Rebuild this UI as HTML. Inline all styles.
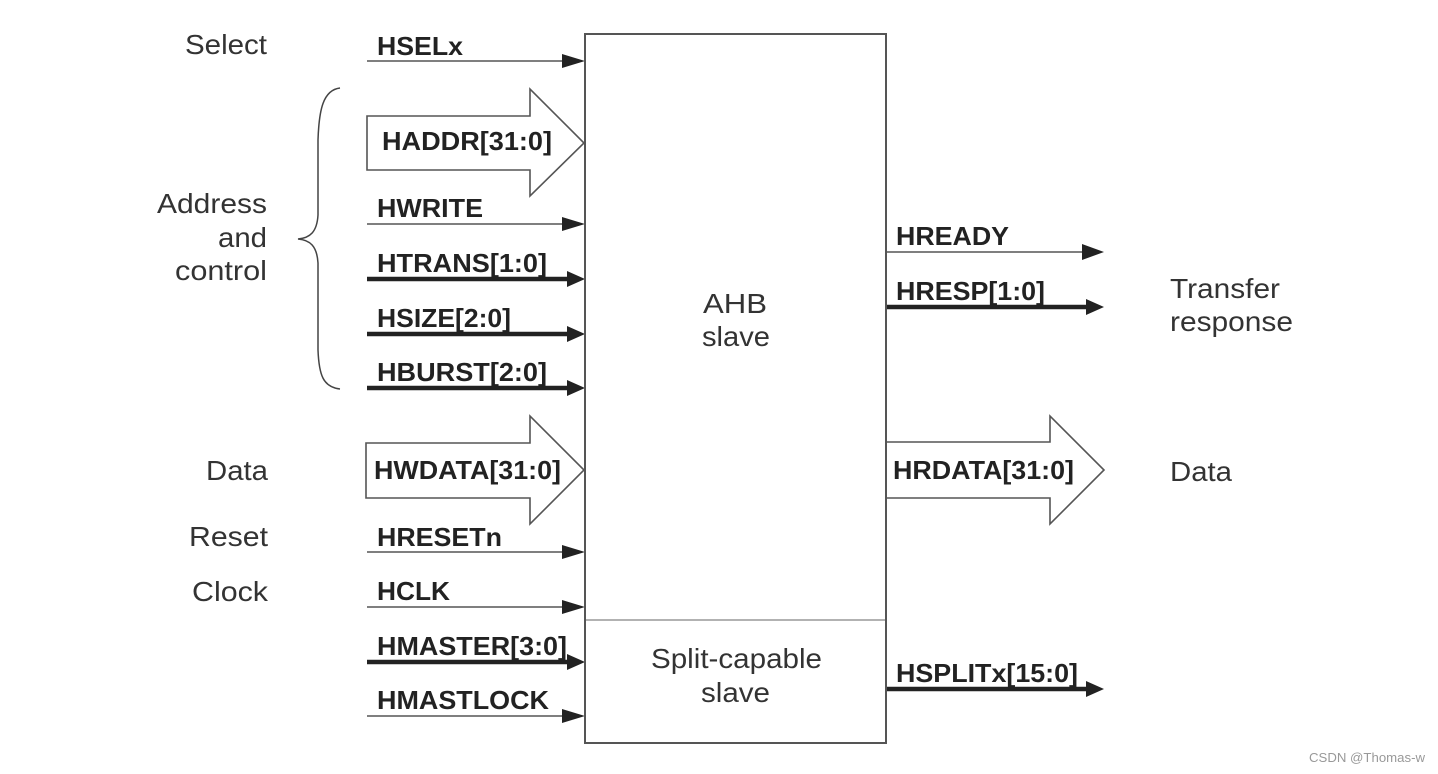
<!DOCTYPE html>
<html><head><meta charset="utf-8"><style>
html,body{margin:0;padding:0;background:#fff;}
svg{display:block;}
.r{font-family:"Liberation Sans",Arial,sans-serif;font-size:28px;fill:#333;}
.b{font-family:"Liberation Sans",Arial,sans-serif;font-size:26px;font-weight:bold;fill:#222;}
</style></head><body>
<svg width="1438" height="774" viewBox="0 0 1438 774" xmlns="http://www.w3.org/2000/svg">
<rect width="1438" height="774" fill="#fff"/>
<!-- main box -->
<rect x="585" y="34" width="301" height="709" fill="none" stroke="#555" stroke-width="2"/>
<line x1="586" y1="620" x2="885" y2="620" stroke="#999" stroke-width="1.5"/>

<!-- brace -->
<path d="M340,88 C323,90 319,110 318,140 L318,215 C317,232 310,238 298,239 C310,240 317,246 318,263 L318,350 C319,375 323,387 340,389" fill="none" stroke="#444" stroke-width="1.5"/>

<!-- left labels -->
<text class="r" x="185" y="54" textLength="82" lengthAdjust="spacingAndGlyphs">Select</text>
<text class="r" x="157" y="213" textLength="110" lengthAdjust="spacingAndGlyphs">Address</text>
<text class="r" x="218" y="247" textLength="49" lengthAdjust="spacingAndGlyphs">and</text>
<text class="r" x="175" y="280" textLength="92" lengthAdjust="spacingAndGlyphs">control</text>
<text class="r" x="206" y="480" textLength="62" lengthAdjust="spacingAndGlyphs">Data</text>
<text class="r" x="189" y="546" textLength="79" lengthAdjust="spacingAndGlyphs">Reset</text>
<text class="r" x="192" y="601" textLength="76" lengthAdjust="spacingAndGlyphs">Clock</text>

<!-- center labels -->
<text class="r" x="703" y="313" textLength="64" lengthAdjust="spacingAndGlyphs">AHB</text>
<text class="r" x="702" y="346" textLength="68" lengthAdjust="spacingAndGlyphs">slave</text>
<text class="r" x="651" y="668" textLength="171" lengthAdjust="spacingAndGlyphs">Split-capable</text>
<text class="r" x="701" y="702" textLength="69" lengthAdjust="spacingAndGlyphs">slave</text>

<!-- right labels -->
<text class="r" x="1170" y="298" textLength="110" lengthAdjust="spacingAndGlyphs">Transfer</text>
<text class="r" x="1170" y="331" textLength="123" lengthAdjust="spacingAndGlyphs">response</text>
<text class="r" x="1170" y="481" textLength="62" lengthAdjust="spacingAndGlyphs">Data</text>

<!-- thin input lines -->
<g stroke="#555" stroke-width="1.6">
<line x1="367" y1="61" x2="565" y2="61"/>
<line x1="367" y1="224" x2="565" y2="224"/>
<line x1="367" y1="552" x2="565" y2="552"/>
<line x1="367" y1="607" x2="565" y2="607"/>
<line x1="367" y1="716" x2="565" y2="716"/>
<line x1="886" y1="252" x2="1085" y2="252"/>
</g>
<g fill="#222">
<polygon points="562,54 585,61 562,68"/>
<polygon points="562,217 585,224 562,231"/>
<polygon points="562,545 585,552 562,559"/>
<polygon points="562,600 585,607 562,614"/>
<polygon points="562,709 585,716 562,723"/>
<polygon points="1082,244 1104,252 1082,260"/>
</g>

<!-- thick lines -->
<g stroke="#222" stroke-width="4.5">
<line x1="367" y1="279" x2="570" y2="279"/>
<line x1="367" y1="334" x2="570" y2="334"/>
<line x1="367" y1="388" x2="570" y2="388"/>
<line x1="367" y1="662" x2="570" y2="662"/>
<line x1="886" y1="307" x2="1090" y2="307"/>
<line x1="886" y1="689" x2="1090" y2="689"/>
</g>
<g fill="#222">
<polygon points="567,271 585,279 567,287"/>
<polygon points="567,326 585,334 567,342"/>
<polygon points="567,380 585,388 567,396"/>
<polygon points="567,654 585,662 567,670"/>
<polygon points="1086,299 1104,307 1086,315"/>
<polygon points="1086,681 1104,689 1086,697"/>
</g>

<!-- big arrows -->
<g fill="#fff" stroke="#555" stroke-width="1.6" stroke-linejoin="miter">
<polygon points="367,116 530,116 530,89 584,143 530,196 530,170 367,170"/>
<polygon points="366,443 530,443 530,416 584,470 530,524 530,498 366,498"/>
<polygon points="886,442 1050,442 1050,416 1104,470 1050,524 1050,498 886,498"/>
</g>
<line x1="585" y1="34" x2="585" y2="743" stroke="#555" stroke-width="2"/>
<line x1="886" y1="34" x2="886" y2="743" stroke="#555" stroke-width="2"/>

<!-- signal labels -->
<text class="b" x="377" y="55" textLength="86" lengthAdjust="spacingAndGlyphs">HSELx</text>
<text class="b" x="382" y="150" textLength="170" lengthAdjust="spacingAndGlyphs">HADDR[31:0]</text>
<text class="b" x="377" y="217" textLength="106" lengthAdjust="spacingAndGlyphs">HWRITE</text>
<text class="b" x="377" y="272" textLength="170" lengthAdjust="spacingAndGlyphs">HTRANS[1:0]</text>
<text class="b" x="377" y="327" textLength="134" lengthAdjust="spacingAndGlyphs">HSIZE[2:0]</text>
<text class="b" x="377" y="381" textLength="170" lengthAdjust="spacingAndGlyphs">HBURST[2:0]</text>
<text class="b" x="374" y="479" textLength="187" lengthAdjust="spacingAndGlyphs">HWDATA[31:0]</text>
<text class="b" x="377" y="546" textLength="125" lengthAdjust="spacingAndGlyphs">HRESETn</text>
<text class="b" x="377" y="600" textLength="73" lengthAdjust="spacingAndGlyphs">HCLK</text>
<text class="b" x="377" y="655" textLength="190" lengthAdjust="spacingAndGlyphs">HMASTER[3:0]</text>
<text class="b" x="377" y="709" textLength="172" lengthAdjust="spacingAndGlyphs">HMASTLOCK</text>
<text class="b" x="896" y="245" textLength="113" lengthAdjust="spacingAndGlyphs">HREADY</text>
<text class="b" x="896" y="300" textLength="149" lengthAdjust="spacingAndGlyphs">HRESP[1:0]</text>
<text class="b" x="893" y="479" textLength="181" lengthAdjust="spacingAndGlyphs">HRDATA[31:0]</text>
<text class="b" x="896" y="682" textLength="182" lengthAdjust="spacingAndGlyphs">HSPLITx[15:0]</text>

<!-- watermark -->
<text x="1309" y="762" font-family="Liberation Sans, Arial, sans-serif" font-size="13" fill="#999" textLength="116" lengthAdjust="spacingAndGlyphs">CSDN @Thomas-w</text>
</svg>
</body></html>
